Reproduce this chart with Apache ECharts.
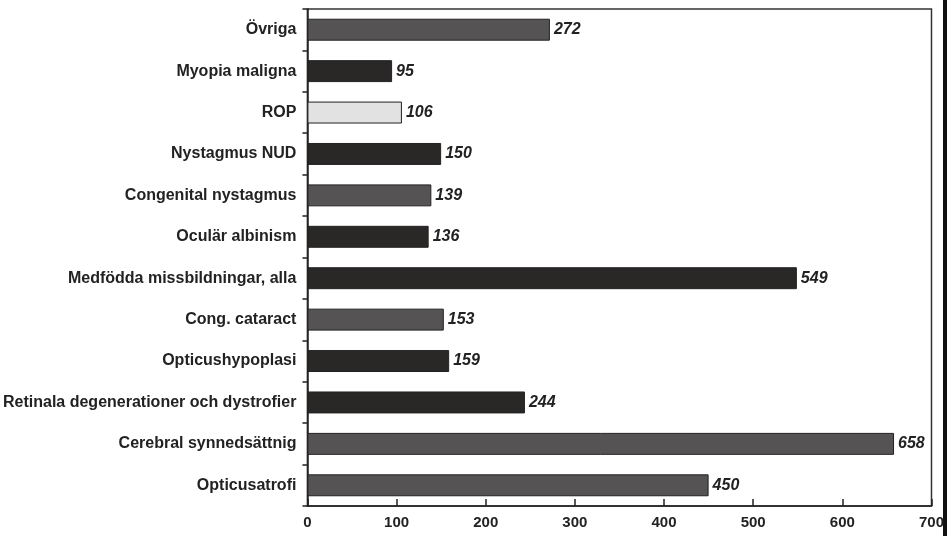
<!DOCTYPE html>
<html><head><meta charset="utf-8">
<script src="https://cdn.jsdelivr.net/npm/echarts@6/dist/echarts.min.js"></script>
<style>html,body{margin:0;padding:0;background:#fff}#c{width:947px;height:536px}</style>
</head><body><div id="c"></div>
<script>
// categories bottom -> top
var categories = ["Opticusatrofi","Cerebral synnedsättnig","Retinala degenerationer och dystrofier","Opticushypoplasi","Cong. cataract","Medfödda missbildningar, alla","Oculär albinism","Congenital nystagmus","Nystagmus NUD","ROP","Myopia maligna","Övriga"];
var values = [450,658,244,159,153,549,136,139,150,106,95,272];
var xTicks = [0,100,200,300,400,500,600,700];
var shadeKeys = ["grey","grey","dark","dark","grey","dark","dark","grey","dark","light","dark","grey"];
var shadeColors = {grey:"#555353", dark:"#2a2727", light:"#e2e2e2"};

var chart = echarts.init(document.getElementById('c'), null, {renderer:'canvas'});
chart.setOption({
  animation:false,
  backgroundColor:'#fff',
  grid:{left:307,right:10,top:9,bottom:30,show:true,borderColor:'#333',borderWidth:1.5,containLabel:false},
  xAxis:{type:'value',min:xTicks[0],max:xTicks[xTicks.length-1],interval:100,
    axisLine:{show:true,lineStyle:{color:'#222',width:1.5}},
    axisTick:{show:true,inside:true,length:7,lineStyle:{color:'#222',width:1.5}},
    splitLine:{show:false},
    axisLabel:{color:'#222',fontFamily:'Liberation Sans, Arial',fontWeight:'bold',fontSize:15,margin:9}},
  yAxis:{type:'category',data:categories,
    axisLine:{show:true,lineStyle:{color:'#222',width:1.5}},
    axisTick:{show:true,length:5,lineStyle:{color:'#222',width:1.5}},
    axisLabel:{color:'#222',fontFamily:'Liberation Sans, Arial',fontWeight:'bold',fontSize:16,margin:11}},
  series:[{type:'bar',barCategoryGap:'47%',
    data:values.map(function(v,i){return {value:v,itemStyle:{color:shadeColors[shadeKeys[i]]}};}),
    itemStyle:{borderColor:'#222',borderWidth:1},
    label:{show:true,position:'right',distance:4,color:'#222',fontFamily:'Liberation Sans, Arial',fontWeight:'bold',fontStyle:'italic',fontSize:16}
  }],
  graphic:[{type:'rect',right:0,top:0,shape:{width:4,height:536},style:{fill:'#111'}}]
});
</script></body></html>
